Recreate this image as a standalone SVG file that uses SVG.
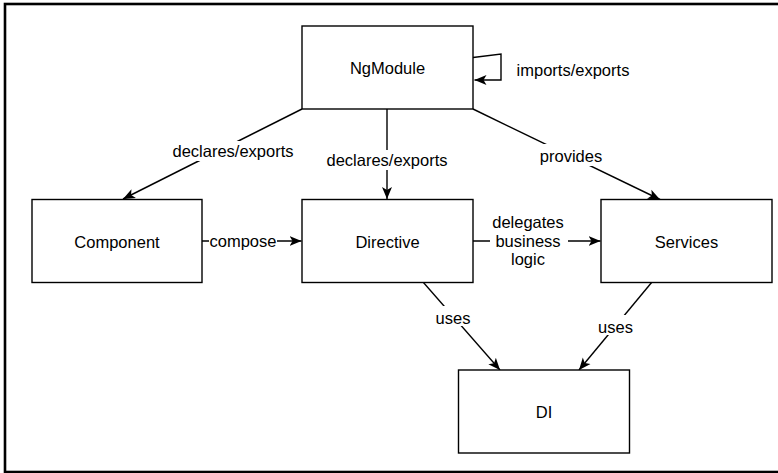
<svg xmlns="http://www.w3.org/2000/svg" width="778" height="473" viewBox="0 0 778 473">
<style>
.node rect{fill:#fff;stroke:#000;stroke-width:1.4}
.node text,.lbl text{font-family:"Liberation Sans",Arial,sans-serif;font-size:16.5px;fill:#000;text-anchor:middle}
.edge{fill:none;stroke:#000;stroke-width:1.4}
.bg{fill:#fff;stroke:none}
</style>
<defs>
<marker id="arr" markerUnits="userSpaceOnUse" markerWidth="14" markerHeight="12" viewBox="0 0 14 12" refX="12" refY="6" orient="auto">
<path d="M0,1 L12,6 L0,11 L3,6 z" fill="#000"/>
</marker>
</defs>
<rect x="5" y="4" width="790" height="468" fill="#fff" stroke="#000" stroke-width="2.6"/>
<g id="connectors">
<path class="edge" d="M473,57.5 L501,54 L501,80 L474.5,80" marker-end="url(#arr)"/>
<path class="edge" d="M302,109 L123,199" marker-end="url(#arr)"/>
<path class="edge" d="M387,109 L387,199" marker-end="url(#arr)"/>
<path class="edge" d="M473,109 L660,199.5" marker-end="url(#arr)"/>
<path class="edge" d="M202,241 L301.5,241" marker-end="url(#arr)"/>
<path class="edge" d="M473,241 L600.5,241" marker-end="url(#arr)"/>
<path class="edge" d="M423,282 L500,370" marker-end="url(#arr)"/>
<path class="edge" d="M652,282 L579,370" marker-end="url(#arr)"/>
</g>
<g class="lbl" id="edge-labels">
<rect class="bg" x="170" y="141" width="126" height="20"/>
<text x="233" y="157">declares/exports</text>
<rect class="bg" x="325" y="150" width="124" height="20"/>
<text x="387" y="166">declares/exports</text>
<rect class="bg" x="537" y="144" width="68" height="22"/>
<text x="571" y="162">provides</text>
<text x="573" y="75.5">imports/exports</text>
<rect class="bg" x="209" y="231" width="68" height="20"/>
<text x="243" y="247">compose</text>
<rect class="bg" x="490" y="212" width="78" height="58"/>
<text x="528" y="228">delegates</text>
<text x="528" y="246.5">business</text>
<text x="528" y="265">logic</text>
<rect class="bg" x="434" y="306" width="38" height="20"/>
<text x="453" y="323.5">uses</text>
<rect class="bg" x="597" y="315" width="38" height="20"/>
<text x="615.5" y="332.5">uses</text>
</g>
<g class="node" id="ngmodule">
<rect x="302" y="26" width="171" height="83"/>
<text x="387.5" y="74">NgModule</text>
</g>
<g class="node" id="component">
<rect x="32" y="199.5" width="170" height="83"/>
<text x="117" y="247.5">Component</text>
</g>
<g class="node" id="directive">
<rect x="302" y="199.5" width="171" height="83"/>
<text x="387.5" y="247.5">Directive</text>
</g>
<g class="node" id="services">
<rect x="601" y="199.5" width="171" height="83"/>
<text x="686.5" y="247.5">Services</text>
</g>
<g class="node" id="di">
<rect x="458.5" y="370" width="171" height="83"/>
<text x="544" y="418">DI</text>
</g>
</svg>
